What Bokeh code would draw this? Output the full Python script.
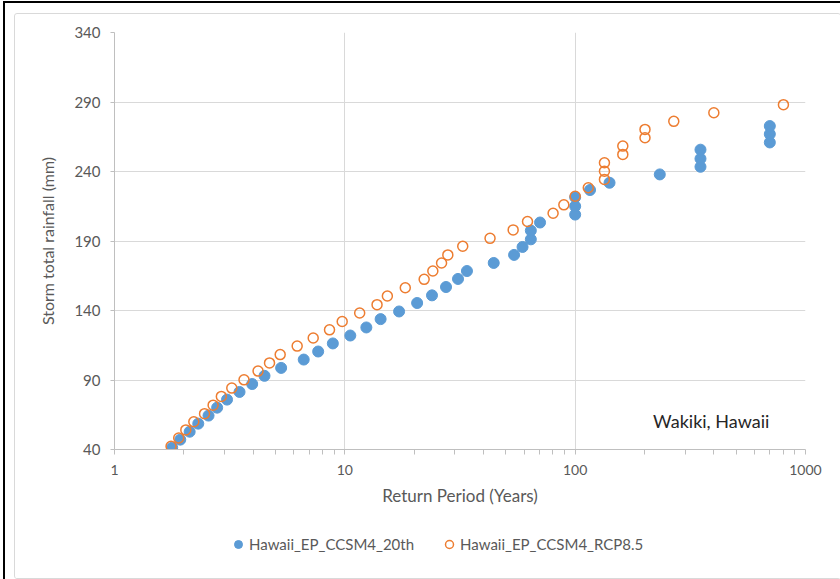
from bokeh.plotting import figure
from bokeh.layouts import column
from bokeh.models import (ColumnDataSource, FixedTicker, Legend, LegendItem,
                          Label, Range1d)
from bokeh.embed import file_html
from bokeh.resources import INLINE

# ---- data ----
hist_period = [1.78, 1.93, 2.12, 2.31, 2.56, 2.79, 3.08, 3.49, 3.96, 4.48,
               5.29, 6.63, 7.66, 8.87, 10.56, 12.4, 14.3, 17.2, 20.6, 23.9,
               27.5, 31.0, 33.9, 44.3, 54.3, 59.1, 64.2, 64.2, 70.4, 100,
               100, 100, 116, 141, 233, 350, 350, 350, 700, 700, 700]
hist_rain = [41.3, 47.1, 52.8, 58.6, 64.4, 70.1, 75.9, 81.4, 87.1, 93.0,
             98.7, 104.7, 110.5, 116.3, 122.0, 127.8, 133.8, 139.3, 145.4, 150.9,
             156.9, 162.7, 168.4, 174.2, 180.0, 185.7, 191.2, 197.5, 203.3, 209.0,
             215.0, 221.5, 226.7, 231.9, 237.9, 243.4, 249.2, 255.7, 260.9, 266.9,
             272.7]

rcp_period = [1.76, 1.90, 2.04, 2.21, 2.46, 2.68, 2.91, 3.23, 3.65, 4.20,
              4.71, 5.24, 6.21, 7.29, 8.58, 9.74, 11.6, 13.8, 15.3, 18.3,
              22.1, 24.1, 26.3, 28.0, 32.5, 42.7, 53.8, 62.1, 80.2, 89.3,
              100, 114, 134, 134, 134, 161, 161, 201, 201, 268, 400, 802]
rcp_rain = [42.3, 48.3, 54.1, 60.0, 65.8, 71.9, 78.2, 84.2, 90.1, 96.4,
            102.3, 108.3, 114.4, 120.2, 126.1, 132.1, 138.2, 144.2, 150.4, 156.4,
            162.4, 168.4, 174.2, 180.0, 186.2, 191.9, 198.0, 204.0, 210.0, 216.0,
            222.2, 228.3, 234.3, 240.2, 246.3, 252.3, 258.3, 264.3, 270.3, 276.1,
            282.3, 288.1]

x_major_ticks = [1, 10, 100, 1000]
y_ticks = [40, 90, 140, 190, 240, 290, 340]
series_names = ["Hawaii_EP_CCSM4_20th", "Hawaii_EP_CCSM4_RCP8.5"]
annotation_text = "Wakiki, Hawaii"

FONT = "Lato"
GRAY_TXT = "#595959"
BLUE = "#5b9bd5"
ORANGE = "#ed7d31"

p = figure(width=825, height=506, x_axis_type="log",
           x_range=Range1d(1, 1000), y_range=Range1d(40, 340),
           output_backend="svg", toolbar_location=None,
           min_border_left=99, min_border_right=35,
           min_border_top=18, min_border_bottom=71)
p.outline_line_color = None
p.background_fill_color = "white"
p.border_fill_color = "white"

# axes
xa = p.xaxis[0]
xa.ticker = FixedTicker(ticks=x_major_ticks,
                        minor_ticks=[m * 10 ** e for e in range(3) for m in range(2, 10)])
xa.major_label_overrides = {1: "1", 10: "10", 100: "100", 1000: "1000"}
xa.axis_label = "Return Period (Years)"
ya = p.yaxis[0]
ya.ticker = FixedTicker(ticks=y_ticks)
ya.axis_label = "Storm total rainfall (mm)"

for ax in (xa, ya):
    ax.axis_line_color = "#bfbfbf"
    ax.major_tick_line_color = "#bfbfbf"
    ax.minor_tick_line_color = "#bfbfbf"
    ax.major_tick_in = 0
    ax.minor_tick_in = 0
    ax.major_label_text_font = FONT
    ax.major_label_text_color = GRAY_TXT
    ax.axis_label_text_font = FONT
    ax.axis_label_text_font_style = "normal"
    ax.axis_label_text_color = GRAY_TXT

xa.major_label_text_font_size = "14px"
ya.major_label_text_font_size = "15px"
xa.axis_label_text_font_size = "17px"
ya.axis_label_text_font_size = "16px"
xa.major_tick_out = 5
xa.minor_tick_out = 5
xa.major_label_standoff = 10
xa.axis_label_standoff = 7
ya.major_tick_out = 4
ya.minor_tick_line_color = None
ya.major_label_standoff = 10
ya.axis_label_standoff = 14

p.xgrid.grid_line_color = "#d9d9d9"
p.ygrid.grid_line_color = "#d9d9d9"

src_h = ColumnDataSource(dict(x=hist_period, y=hist_rain))
src_r = ColumnDataSource(dict(x=rcp_period, y=rcp_rain))
p.scatter("x", "y", source=src_h, size=11, marker="circle",
          fill_color=BLUE, line_color=BLUE, line_width=1)
p.scatter("x", "y", source=src_r, size=10, marker="circle",
          fill_color=None, line_color=ORANGE, line_width=1.5)

p.add_layout(Label(x=218, y=60.5, text=annotation_text, text_font=FONT,
                   text_font_size="18px", text_color="#262626",
                   text_baseline="middle", text_align="left"))

# ---- legend strip below the chart ----
pl = figure(width=825, height=58, x_range=Range1d(0, 1), y_range=Range1d(0, 1),
            x_axis_location=None, y_axis_location=None,
            output_backend="svg", toolbar_location=None, min_border=0)
pl.grid.visible = False
pl.outline_line_color = None
pl.background_fill_color = "white"
pl.border_fill_color = "white"
# legend-only renderers (their single point lies outside the strip's ranges)
lr1 = pl.scatter(x=[-5], y=[-5], size=11, marker="circle",
                 fill_color=BLUE, line_color=BLUE, line_width=1)
lr2 = pl.scatter(x=[-5], y=[-5], size=10, marker="circle",
                 fill_color=None, line_color=ORANGE, line_width=1.5)
legend = Legend(items=[LegendItem(label=series_names[0], renderers=[lr1]),
                       LegendItem(label=series_names[1], renderers=[lr2])],
                orientation="horizontal", location=(114, 24),
                label_text_font=FONT, label_text_font_size="15px",
                label_text_color=GRAY_TXT, glyph_width=20, glyph_height=20,
                label_standoff=1, spacing=25, margin=0, padding=4,
                border_line_color=None, background_fill_alpha=0)
pl.add_layout(legend)

inner = column(p, pl, margin=(10, 0, 0, 9), spacing=0,
               styles={"border": "1px solid #d9d9d9", "border-radius": "3px",
                       "background-color": "white"})
outer = column(inner, margin=(1, 0, 0, 3),
               styles={"border-top": "2px solid black",
                       "border-left": "2px solid black"})

open("out.html", "w").write(file_html(outer, INLINE))
